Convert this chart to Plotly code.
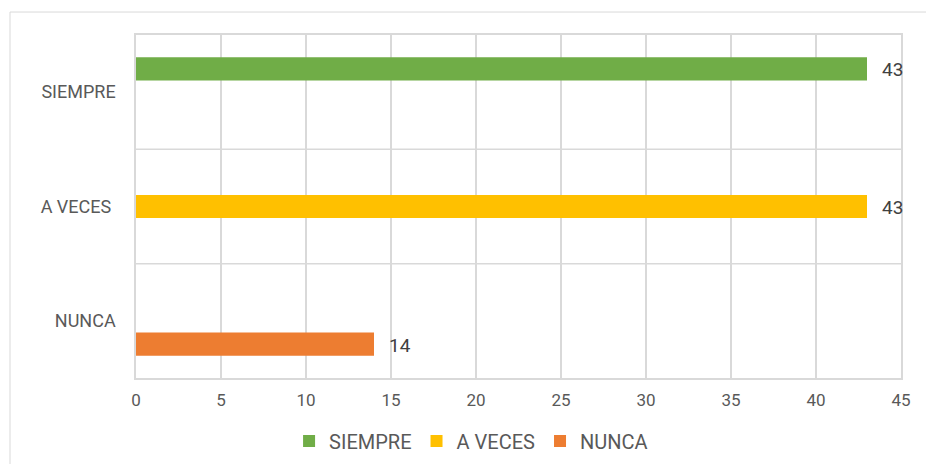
import plotly.graph_objects as go

categories = ["NUNCA", "A VECES", "SIEMPRE"]
series_names = ["NUNCA", "A VECES", "SIEMPRE"]
series_values = [14, 43, 43]
series_colors = ["#ED7D31", "#FFC000", "#70AD47"]
tick_labels = ["NUNCA", "A VECES ", "SIEMPRE"]

BARGAP = 0.39
n = len(series_names)
w = (1 - BARGAP) / n

fig = go.Figure()
annotations = []
for i, (name, val, col) in enumerate(zip(series_names, series_values, series_colors)):
    fig.add_trace(go.Bar(
        name=name, y=[name], x=[val], orientation="h",
        offsetgroup=str(i),
        marker=dict(color=col, line=dict(width=0)),
        hoverinfo="x+name",
    ))
    annotations.append(dict(
        x=val, y=categories.index(name) + (i - (n - 1) / 2) * w,
        xref="x", yref="y", text=str(val), showarrow=False,
        xanchor="left", yanchor="middle", xshift=13, yshift=-1,
        font=dict(family="Roboto", size=19, color="#404040"),
    ))

grid = "#D9D9D9"
shapes = []
for yv in [0.5, 1.5]:
    shapes.append(dict(type="line", xref="paper", x0=0, x1=1, yref="y", y0=yv, y1=yv,
                       line=dict(color=grid, width=1.5), layer="below"))
shapes.append(dict(type="rect", xref="paper", yref="paper",
                   x0=-0.1647, x1=1.1, y0=-0.3, y1=1.067,
                   line=dict(color="#D9D9D9", width=1), layer="below"))

fig.update_layout(
    width=926, height=464,
    margin=dict(l=136, r=25, t=35, b=86, autoexpand=False),
    paper_bgcolor="white", plot_bgcolor="white",
    barmode="group", bargap=BARGAP, bargroupgap=0,
    font=dict(family="Roboto", size=16, color="#595959"),
    showlegend=True,
    legend=dict(orientation="h", x=0.438, xanchor="center", y=-0.184, yanchor="middle",
                traceorder="reversed", font=dict(size=20, color="#595959")),
    xaxis=dict(range=[0, 45], dtick=5, tick0=0, showgrid=True, gridcolor=grid, gridwidth=1.5,
               zeroline=False, showline=True, linecolor=grid, linewidth=1.5, mirror=True,
               automargin=False,
               ticks="", ticklabelstandoff=6, tickfont=dict(size=17, color="#595959")),
    yaxis=dict(type="category", categoryorder="array", categoryarray=categories,
               range=[-0.5, 2.5], showgrid=False, zeroline=False,
               showline=True, linecolor=grid, linewidth=1.5, mirror=True,
               automargin=False,
               tickvals=categories, ticktext=tick_labels,
               ticks="", ticklabelstandoff=15, tickfont=dict(size=18, color="#595959")),
    shapes=shapes,
    annotations=annotations,
)
fig.write_html("out.html", config={"displayModeBar": False},
               post_script="document.body.style.margin='0';document.body.style.overflow='hidden';")
